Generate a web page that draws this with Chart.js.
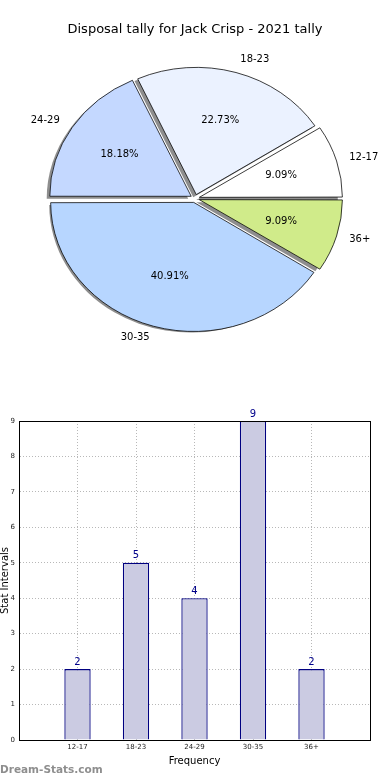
<!DOCTYPE html>
<html>
<head>
<meta charset="utf-8">
<script src="https://cdn.jsdelivr.net/npm/chart.js@4.4.1/dist/chart.umd.min.js"></script>
<style>
  html, body { margin:0; padding:0; background:#fff; width:390px; height:780px; overflow:hidden; }
  #title { position:absolute; left:0; top:21px; width:390px; text-align:center; font-family:"DejaVu Sans", sans-serif; font-size:13px; color:#000; }
  #pie { position:absolute; left:0; top:0; }
  #bar { position:absolute; left:0; top:380px; }
  #wm { position:absolute; left:0; top:763px; font-family:"DejaVu Sans", sans-serif; font-size:10.5px; font-weight:bold; color:#8e8e8e; }
</style>
</head>
<body>
<canvas id="pie" width="390" height="390"></canvas>
<canvas id="bar" width="390" height="400"></canvas>
<div id="title">Disposal tally for Jack Crisp - 2021 tally</div>
<div id="wm">Dream-Stats.com</div>
<script>
// ---- data ----
const categories = ['12-17', '18-23', '24-29', '30-35', '36+'];
const counts = [2, 5, 4, 9, 2];
const percentLabels = ['9.09%', '22.73%', '18.18%', '40.91%', '9.09%'];
const sliceColors = ['#ffffff', '#ebf2ff', '#c4d8ff', '#b7d6ff', '#d0eb8a'];
const yTicks = [0, 1, 2, 3, 4, 5, 6, 7, 8, 9];

// pie drawn clockwise from 3 o'clock -> reverse order to mimic counter-clockwise
const pieOrder = [4, 3, 2, 1, 0];
const SY = 129 / 143;
const EXPLODE = 18;
const FONT = '"DejaVu Sans", sans-serif';

const pieFx = {
  id: 'pieFx',
  beforeDatasetsDraw(chart) {
    const ctx = chart.ctx;
    const meta = chart.getDatasetMeta(0);
    const a0 = meta.data[0];
    const cx = a0.x, cy = a0.y;
    ctx.save();
    ctx.translate(cx, cy);
    ctx.scale(1, SY);
    ctx.translate(-cx, -cy);
    meta.data.forEach(arc => {
      const mid = (arc.startAngle + arc.endAngle) / 2;
      const t = EXPLODE / 4;
      const px = arc.x + Math.cos(mid) * t - 3;
      const py = arc.y + Math.sin(mid) * t + 2.8;
      ctx.beginPath();
      ctx.moveTo(px, py);
      ctx.arc(px, py, arc.outerRadius + 0.5, arc.startAngle, arc.endAngle);
      ctx.closePath();
      ctx.fillStyle = 'rgba(50,50,50,0.55)';
      ctx.fill();
    });
  },
  afterDatasetsDraw(chart) {
    const ctx = chart.ctx;
    ctx.restore();
    const meta = chart.getDatasetMeta(0);
    ctx.save();
    ctx.fillStyle = '#000';
    ctx.font = '10px ' + FONT;
    ctx.textBaseline = 'middle';
    meta.data.forEach((arc, i) => {
      const idx = pieOrder[i];
      const mid = (arc.startAngle + arc.endAngle) / 2;
      const t = EXPLODE / 4;
      const R = 142;
      const ox = arc.x + Math.cos(mid) * t;
      const oy = arc.y + Math.sin(mid) * t;
      const tx = (k) => ox + Math.cos(mid) * R * k;
      const ty = (k) => arc.y + (oy + Math.sin(mid) * R * k - arc.y) * SY;
      ctx.textAlign = Math.cos(mid) > 0 ? 'left' : 'right';
      ctx.fillText(categories[idx], tx(1.1), ty(1.1));
      ctx.textAlign = 'center';
      ctx.fillText(percentLabels[idx], tx(0.6), ty(0.6));
    });
    ctx.restore();
  }
};

new Chart(document.getElementById('pie'), {
  type: 'pie',
  data: {
    labels: pieOrder.map(i => categories[i]),
    datasets: [{
      data: pieOrder.map(i => counts[i]),
      backgroundColor: pieOrder.map(i => sliceColors[i]),
      borderColor: '#000',
      borderWidth: 0.8,
      offset: EXPLODE,
      radius: 141
    }]
  },
  options: {
    responsive: false,
    animation: false,
    events: [],
    rotation: 90,
    layout: { padding: { top: 7, bottom: 0, left: 0, right: 0 } },
    plugins: { legend: { display: false }, tooltip: { enabled: false } }
  },
  plugins: [pieFx]
});

const barFx = {
  id: 'barFx',
  afterDatasetsDraw(chart) {
    const ctx = chart.ctx;
    const a = chart.chartArea;
    ctx.save();
    ctx.strokeStyle = '#000';
    ctx.lineWidth = 1;
    ctx.strokeRect(Math.round(a.left) + 0.5, Math.round(a.top) + 0.5, Math.round(a.right - a.left), Math.round(a.bottom - a.top));
    const meta = chart.getDatasetMeta(0);
    ctx.fillStyle = '#00008b';
    ctx.font = '10px ' + FONT;
    ctx.textAlign = 'center';
    ctx.textBaseline = 'bottom';
    meta.data.forEach((bar, i) => {
      ctx.fillText(String(counts[i]), bar.x, bar.y - 2);
    });
    ctx.fillStyle = '#000';
    ctx.translate(8, (a.top + a.bottom) / 2);
    ctx.rotate(-Math.PI / 2);
    ctx.textBaseline = 'alphabetic';
    ctx.fillText('Stat Intervals', 0, 0);
    ctx.restore();
  }
};

new Chart(document.getElementById('bar'), {
  type: 'bar',
  data: {
    datasets: [{
      data: categories.map((c, i) => ({ x: i + 1, y: counts[i] })),
      backgroundColor: '#cbcbe2',
      borderColor: '#000080',
      borderWidth: 1.3,
      barPercentage: 0.45,
      categoryPercentage: 1
    }]
  },
  options: {
    responsive: false,
    animation: false,
    events: [],
    layout: { padding: { top: 41, right: 20, left: 0, bottom: 13 } },
    plugins: { legend: { display: false }, tooltip: { enabled: false } },
    scales: {
      x: {
        type: 'linear', min: 0, max: 6, offset: false,
        afterBuildTicks(s) { s.ticks = [0, 1, 2, 3, 4, 5, 6].map(v => ({ value: v })); },
        ticks: { callback: v => categories[v - 1] || '', font: { family: FONT, size: 7 }, color: '#222', maxRotation: 0, autoSkip: false, padding: 3 },
        grid: { color: '#b8b8b8', drawTicks: false, lineWidth: 1, offset: false },
        border: { display: true, color: '#000', dash: [1, 2] },
        title: { display: true, text: 'Frequency', font: { family: FONT, size: 10 }, color: '#000', padding: { top: 2, bottom: 0 } },
        afterFit(s) { s.height = 27; }
      },
      y: {
        min: 0, max: 9,
        afterBuildTicks(s) { s.ticks = yTicks.map(v => ({ value: v })); },
        ticks: { font: { family: FONT, size: 7 }, color: '#222', padding: 4 },
        grid: { color: '#b8b8b8', drawTicks: false, lineWidth: 1 },
        border: { display: true, color: '#000', dash: [1, 2] },
        afterFit(s) { s.width = 19; }
      }
    }
  },
  plugins: [barFx]
});
</script>
</body>
</html>
